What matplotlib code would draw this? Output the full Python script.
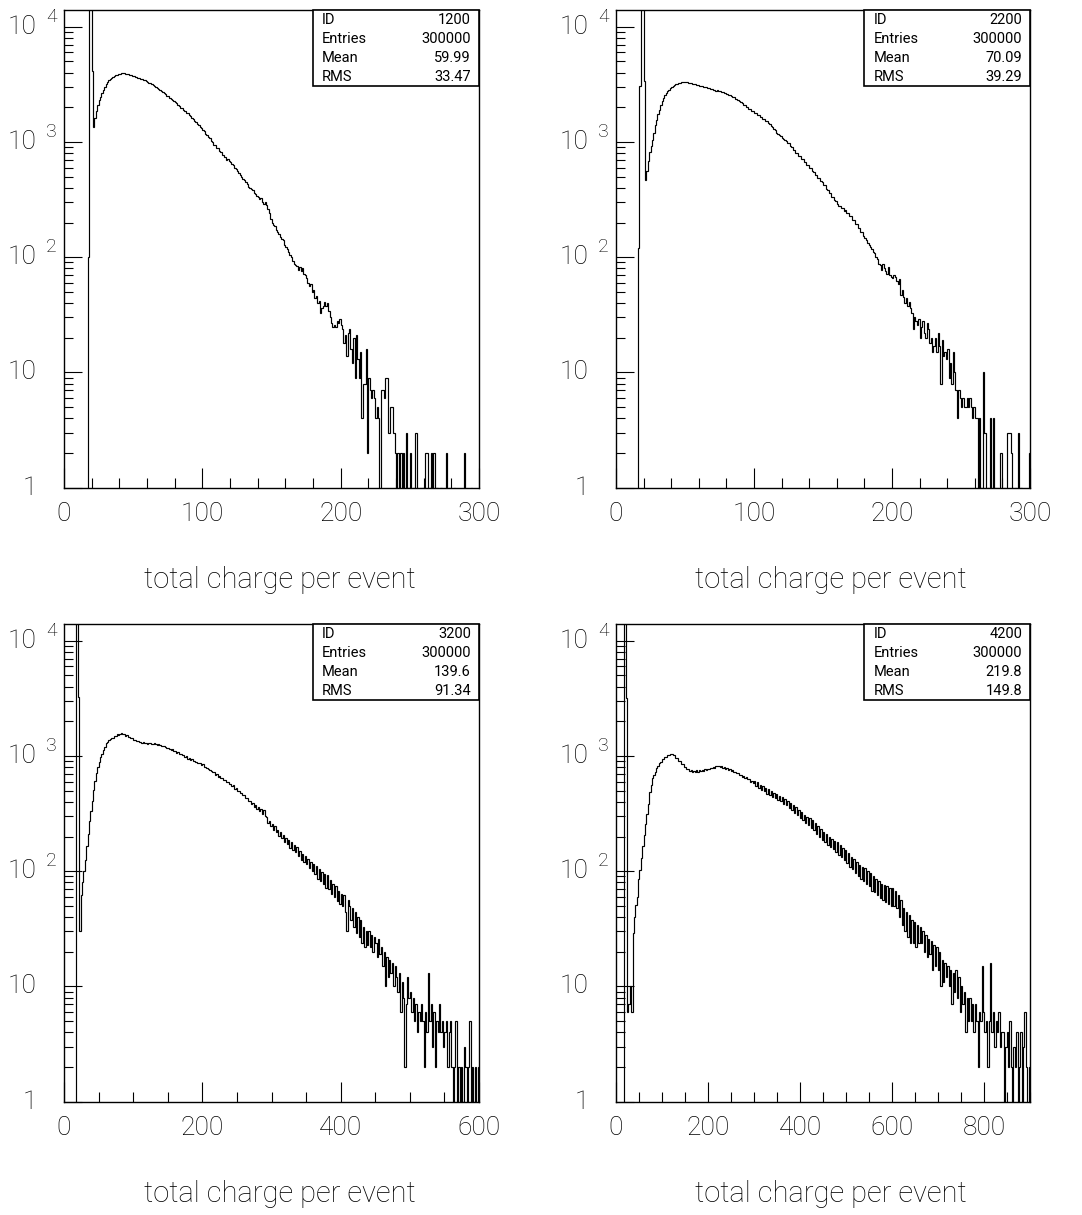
import numpy as np
import matplotlib
matplotlib.use('Agg')
import matplotlib.pyplot as plt
from matplotlib.patches import Rectangle
from matplotlib.transforms import blended_transform_factory

plt.rcParams['font.family'] = 'Roboto'
plt.rcParams['font.weight'] = 'light'

# histogram contents (bin width 1, 1, 2 and 3)
counts_1200 = [
    0, 0, 0, 0, 0, 0, 0, 0, 0, 0, 0, 0, 0, 0, 0, 0, 0, 100, 40000, 40000,
    4100, 1340, 1620, 1850, 2080, 2290, 2470, 2660, 2840, 3010, 3180, 3300, 3420, 3510, 3600, 3680, 3740, 3790, 3840, 3870,
    3910, 3940, 3960, 3930, 3920, 3880, 3860, 3810, 3780, 3720, 3700, 3640, 3630, 3580, 3570, 3520, 3500, 3450, 3420, 3360,
    3320, 3280, 3220, 3180, 3100, 3070, 2990, 2960, 2880, 2850, 2770, 2730, 2650, 2600, 2520, 2490, 2410, 2380, 2310, 2270,
    2200, 2160, 2100, 2060, 1990, 1970, 1910, 1870, 1800, 1770, 1700, 1670, 1610, 1580, 1520, 1500, 1440, 1410, 1360, 1330,
    1270, 1250, 1180, 1160, 1100, 1080, 1020, 1000, 950, 940, 890, 880, 835, 815, 775, 770, 735, 700, 710, 680,
    670, 640, 630, 600, 580, 560, 540, 512, 500, 478, 465, 448, 430, 410, 400, 390, 380, 362, 356, 340,
    330, 318, 325, 300, 290, 300, 285, 262, 240, 215, 200, 190, 185, 172, 165, 158, 150, 144, 140, 128,
    122, 118, 110, 104, 100, 92, 88, 86, 84, 78, 82, 76, 80, 72, 70, 66, 60, 56, 58, 50,
    52, 44, 46, 40, 42, 33, 36, 38, 41, 38, 40, 34, 30, 27, 25, 26, 25, 28, 27, 29,
    26, 24, 18, 21, 14, 22, 24, 16, 12, 20, 9, 21, 13, 9, 15, 4, 8, 8, 16, 2,
    9, 7, 6, 7, 6, 4, 5, 4, 0, 7, 7, 6, 9, 9, 3, 3, 5, 5, 3, 2,
    0, 2, 0, 2, 1, 2, 0, 3, 1, 1, 2, 0, 1, 0, 3, 1, 0, 1, 0, 1,
    0, 2, 2, 0, 1, 2, 1, 2, 0, 1, 0, 0, 1, 0, 0, 0, 2, 0, 1, 0,
    0, 0, 1, 0, 0, 0, 0, 0, 0, 2, 0, 0, 0, 0, 1, 0, 0, 0, 0, 0,
]

counts_2200 = [
    0, 0, 0, 0, 0, 0, 0, 0, 0, 0, 0, 0, 0, 0, 0, 0, 120, 3080, 40000, 40000,
    3390, 465, 560, 690, 820, 930, 1030, 1200, 1400, 1560, 1750, 1900, 2080, 2260, 2400, 2560, 2660, 2760, 2840, 2930,
    3000, 3060, 3110, 3160, 3190, 3230, 3250, 3290, 3300, 3330, 3300, 3290, 3270, 3260, 3230, 3210, 3180, 3170, 3130, 3120,
    3080, 3070, 3030, 3020, 2980, 2970, 2930, 2920, 2870, 2880, 2840, 2830, 2790, 2800, 2750, 2750, 2700, 2700, 2650, 2640,
    2590, 2580, 2530, 2520, 2460, 2440, 2380, 2350, 2290, 2260, 2200, 2180, 2110, 2090, 2030, 2010, 1950, 1930, 1870, 1850,
    1800, 1780, 1730, 1710, 1660, 1650, 1590, 1580, 1530, 1510, 1470, 1440, 1370, 1350, 1290, 1260, 1200, 1180, 1140, 1130,
    1080, 1070, 1030, 1020, 985, 970, 920, 910, 860, 850, 805, 800, 760, 755, 710, 710, 670, 665, 630, 635,
    600, 590, 560, 550, 520, 515, 490, 485, 455, 452, 425, 420, 390, 385, 362, 358, 335, 330, 312, 310,
    292, 280, 280, 265, 266, 252, 255, 240, 244, 226, 226, 210, 210, 196, 196, 180, 178, 164, 164, 152,
    148, 140, 132, 128, 122, 118, 112, 108, 100, 96, 88, 85, 78, 88, 80, 76, 72, 82, 70, 67,
    66, 70, 67, 62, 58, 65, 47, 52, 45, 40, 44, 38, 41, 36, 33, 24, 30, 28, 26, 29,
    20, 25, 28, 22, 20, 27, 24, 18, 20, 15, 17, 20, 15, 22, 17, 8, 19, 14, 15, 13,
    16, 9, 12, 8, 15, 10, 7, 4, 7, 6, 5, 6, 5, 5, 6, 5, 6, 5, 4, 5,
    4, 4, 0, 4, 1, 0, 10, 3, 0, 1, 0, 4, 0, 4, 1, 0, 1, 0, 2, 2,
    0, 1, 0, 3, 3, 3, 2, 1, 0, 1, 0, 3, 0, 1, 0, 0, 0, 0, 0, 2,
]

counts_3200 = [
    0, 0, 0, 0, 0, 0, 0, 0, 0, 40000, 3220, 30, 62, 80, 100, 125, 165, 210, 270, 330,
    410, 510, 610, 710, 810, 880, 970, 1030, 1120, 1190, 1290, 1320, 1380, 1390, 1440, 1440, 1490, 1490, 1540, 1510,
    1550, 1580, 1560, 1550, 1500, 1510, 1460, 1460, 1420, 1420, 1380, 1380, 1340, 1340, 1320, 1320, 1290, 1320, 1290, 1300,
    1280, 1300, 1290, 1280, 1270, 1290, 1260, 1250, 1260, 1240, 1220, 1230, 1210, 1190, 1170, 1180, 1150, 1130, 1140, 1110,
    1100, 1070, 1080, 1040, 1050, 1020, 1020, 980, 990, 950, 960, 920, 945, 910, 905, 880, 875, 870, 865, 835,
    845, 805, 805, 780, 775, 750, 745, 720, 725, 690, 695, 660, 670, 640, 645, 620, 615, 590, 595, 570,
    570, 550, 555, 520, 525, 500, 500, 475, 480, 455, 455, 430, 432, 405, 408, 385, 388, 362, 372, 345,
    360, 330, 345, 312, 340, 300, 298, 262, 275, 245, 256, 228, 245, 218, 230, 202, 220, 195, 208, 180,
    196, 172, 188, 160, 180, 154, 170, 148, 162, 135, 150, 126, 142, 120, 136, 116, 128, 106, 120, 100,
    116, 94, 110, 86, 104, 82, 98, 78, 94, 72, 92, 70, 84, 64, 78, 60, 74, 55, 68, 52,
    64, 50, 62, 44, 30, 56, 50, 38, 48, 33, 44, 29, 40, 27, 38, 24, 33, 22, 30, 23,
    30, 22, 28, 20, 27, 24, 18, 26, 19, 22, 15, 20, 10, 18, 12, 17, 13, 16, 10, 15,
    12, 9, 13, 6, 11, 8, 2, 7, 12, 8, 9, 6, 8, 5, 7, 4, 6, 5, 7, 5,
    2, 6, 4, 13, 5, 7, 3, 6, 2, 5, 4, 7, 4, 5, 3, 4, 5, 2, 4, 5,
    2, 0, 2, 5, 1, 2, 0, 2, 1, 3, 2, 0, 2, 5, 0, 2, 1, 2, 0, 2,
]

counts_4200 = [
    0, 0, 0, 0, 0, 0, 40000, 3210, 6, 7, 10, 6, 29, 40, 51, 60, 85, 103, 130, 165,
    205, 255, 315, 385, 485, 555, 640, 690, 725, 780, 815, 870, 895, 940, 945, 980, 985, 1020, 1010, 1040,
    1040, 1010, 1010, 965, 960, 905, 905, 860, 855, 810, 810, 775, 775, 745, 755, 730, 745, 720, 748, 728,
    752, 735, 758, 738, 768, 758, 778, 772, 785, 782, 808, 790, 818, 812, 822, 805, 812, 788, 795, 775,
    782, 758, 768, 738, 748, 722, 728, 705, 710, 680, 690, 660, 672, 645, 655, 625, 628, 600, 608, 582,
    605, 548, 590, 530, 565, 505, 548, 495, 528, 470, 512, 455, 495, 440, 480, 430, 468, 415, 450, 405,
    440, 380, 425, 372, 408, 352, 390, 338, 372, 318, 358, 305, 340, 290, 325, 276, 310, 262, 296, 252,
    288, 238, 276, 228, 262, 212, 248, 200, 232, 186, 220, 178, 210, 170, 200, 162, 190, 155, 182, 148,
    178, 138, 168, 134, 160, 124, 152, 118, 144, 108, 134, 104, 128, 96, 120, 90, 114, 86, 108, 82,
    106, 78, 100, 74, 96, 68, 90, 66, 86, 62, 82, 58, 78, 56, 76, 54, 74, 52, 72, 50,
    72, 50, 68, 48, 62, 40, 56, 34, 48, 30, 44, 27, 42, 24, 38, 24, 36, 22, 34, 24,
    33, 24, 30, 20, 28, 18, 26, 19, 25, 14, 23, 15, 22, 14, 20, 10, 17, 11, 16, 12,
    15, 10, 14, 7, 13, 9, 14, 8, 12, 6, 10, 7, 9, 4, 8, 5, 8, 5, 7, 4,
    7, 5, 2, 6, 5, 15, 6, 4, 5, 2, 5, 16, 4, 6, 3, 5, 4, 6, 3, 4,
    4, 0, 3, 4, 2, 5, 2, 0, 3, 2, 4, 0, 2, 4, 1, 3, 6, 2, 0, 2,
]

hist_ids = ['1200', '2200', '3200', '4200']
entries = ['300000', '300000', '300000', '300000']
means = ['59.99', '70.09', '139.6', '219.8']
rms_values = ['33.47', '39.29', '91.34', '149.8']
x_max = [300, 300, 600, 900]
bin_width = [1, 1, 2, 3]
major_step = [100, 100, 200, 200]
minor_step = [20, 20, 50, 50]
all_counts = [counts_1200, counts_2200, counts_3200, counts_4200]

fig = plt.figure(figsize=(10.82, 12.15), dpi=100)
fig.patch.set_facecolor('white')

positions = [
    [0.05915, 0.5986, 0.38355, 0.39317],
    [0.56932, 0.5986, 0.38263, 0.39317],
    [0.05915, 0.09325, 0.38355, 0.39317],
    [0.56932, 0.09325, 0.38263, 0.39317],
]

ytop = 10 ** 4.145
ax_h_px = 477.7

for i in range(4):
    ax = fig.add_axes(positions[i])
    edges = np.arange(0, x_max[i] + bin_width[i], bin_width[i])
    counts = np.clip(np.array(all_counts[i], dtype=float), 0.1, None)
    ax.stairs(counts, edges, baseline=0.1, color='black', lw=0.85)

    ax.set_yscale('log')
    ax.set_ylim(1, ytop)
    ax.set_xlim(0, x_max[i])

    for sp in ax.spines.values():
        sp.set_linewidth(1.0)

    ax.set_yticks([1, 10, 100, 1000, 10000])
    ax.set_yticks([m * 10 ** k for k in range(4) for m in range(2, 10)], minor=True)
    ax.yaxis.set_minor_formatter(plt.NullFormatter())
    ax.tick_params(axis='y', which='major', direction='in', length=12.7, width=0.8,
                   left=True, right=False, labelleft=False)
    ax.tick_params(axis='y', which='minor', direction='in', length=6.3, width=0.8,
                   left=True, right=False)

    ax.set_xticks(np.arange(0, x_max[i] + 1, major_step[i]))
    ax.set_xticks(np.arange(0, x_max[i] + 1, minor_step[i]), minor=True)
    ax.tick_params(axis='x', which='major', direction='in', length=14.4, width=0.8,
                   top=False, labelsize=19, pad=10)
    ax.tick_params(axis='x', which='minor', direction='in', length=7.2, width=0.8, top=False)

    # y labels in the 10^n style
    trans = blended_transform_factory(ax.transAxes, ax.transData)
    for k in range(5):
        main = '1' if k == 0 else '10'
        ax.text(-0.0658, 10 ** k, main, transform=trans, ha='right', va='center',
                fontsize=19, clip_on=False)
        if k >= 2:
            ax.text(-0.0434, 10 ** (k + 10 / 115.2), str(k), transform=trans, ha='left',
                    va='center', fontsize=14, clip_on=False)

    ax.text(0.52, -100.5 / ax_h_px, 'total charge per event', transform=ax.transAxes,
            ha='center', va='baseline', fontsize=21)

    # statistics box
    box_h = 76 / ax_h_px
    ax.add_patch(Rectangle((0.6, 1 - box_h), 0.4, box_h, transform=ax.transAxes,
                           facecolor='white', edgecolor='black', lw=1.2, zorder=3,
                           clip_on=False))
    rows = [('ID', hist_ids[i]), ('Entries', entries[i]), ('Mean', means[i]), ('RMS', rms_values[i])]
    for j, (name, val) in enumerate(rows):
        yy = 1 - [10, 29, 48, 67][j] / ax_h_px
        ax.text(0.6217, yy, name, transform=ax.transAxes, ha='left', va='center',
                fontsize=10.5, fontweight='normal', zorder=4)
        ax.text(0.9807, yy, val, transform=ax.transAxes, ha='right', va='center',
                fontsize=10.5, fontweight='normal', zorder=4)

fig.savefig('out.png', dpi=100, facecolor='white')
